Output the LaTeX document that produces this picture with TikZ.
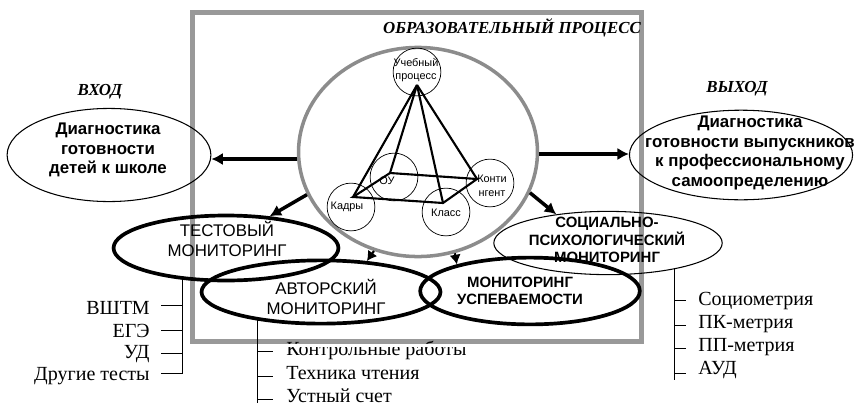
\documentclass[tikz,border=0pt]{standalone}
\usepackage{fontspec}
\setmainfont{Liberation Serif}
\setsansfont{Liberation Sans}
\usetikzlibrary{arrows.meta,shapes.geometric}

\tikzset{
  thinoval/.style={ellipse, draw, line width=0.6pt, inner sep=0pt},
  thickoval/.style={ellipse, draw, line width=2.1pt, inner sep=0pt},
  corner/.style={circle, draw, line width=0.4pt, minimum size=27.2pt, inner sep=0pt},
  flow/.style={-{Latex[length=6.5pt,width=7pt]}, line width=2pt},
  smallflow/.style={-{Latex[length=5.5pt,width=6.5pt]}, line width=1.2pt},
  branch/.style={line width=0.5pt},
  heading/.style={font=\fontsize{9.6}{11}\selectfont\bfseries\itshape, inner sep=0pt},
  plain/.style={font=\sffamily\fontsize{9.6}{11}\selectfont, align=center, inner sep=0pt},
  strong/.style={font=\sffamily\bfseries\fontsize{8.5}{10}\selectfont, align=center, inner sep=0pt},
  goal/.style={font=\sffamily\bfseries\fontsize{9.6}{11}\selectfont, align=center, inner sep=0pt},
  tiny/.style={font=\sffamily\fontsize{6.2}{7.8}\selectfont, align=center, inner sep=0pt},
  item/.style={font=\fontsize{11.4}{13}\selectfont, inner sep=0pt}
}

\begin{document}
\begin{tikzpicture}[x=0.02cm, y=-0.02cm]
    \useasboundingbox (0, 0) rectangle (864, 416);

    \node [draw=black!40, line width=2.9pt, minimum width=256pt, minimum height=187pt, inner sep=0pt] (frame) at (417, 177) {};
    \node [ellipse, draw=black!45, line width=2pt, minimum width=136pt, minimum height=119pt, inner sep=0pt] (process) at (418, 152) {};

    \node [corner] (top) at (417, 72) {};
    \node [corner] (school) at (394, 177) {};
    \node [corner] (staff) at (351, 207) {};
    \node [corner] (grade) at (446, 212) {};
    \node [corner] (pupils) at (490, 183) {};

    \coordinate (apex) at (417, 85);
    \coordinate (backleft) at (390, 173);
    \coordinate (frontleft) at (353, 197);
    \coordinate (frontright) at (443, 203);
    \coordinate (backright) at (477, 179);

    \draw [line width=1.2pt] (frontleft) -- (frontright) -- (backright) -- (backleft) -- cycle;
    \foreach \base in {backleft, frontleft, frontright, backright}
      \draw [line width=1.2pt] (apex) -- (\base);

    \node [tiny] (toplabel) at (416, 70) {Учебный\\процесс};
    \node [tiny] (schoollabel) at (387, 181) {ОУ};
    \node [tiny] (stafflabel) at (347, 207) {Кадры};
    \node [tiny] (gradelabel) at (446, 213) {Класс};
    \node [tiny] (pupilslabel) at (492, 186) {Конти\\нгент};

    \node [heading] (title) at (512, 28) {ОБРАЗОВАТЕЛЬНЫЙ ПРОЦЕСС};
    \node [heading] (intitle) at (100, 92) {ВХОД};
    \node [heading] (outtitle) at (737, 89) {ВЫХОД};

    \node [thinoval, minimum width=116pt, minimum height=53pt] (entry) at (109, 155) {};
    \node [thinoval, minimum width=127pt, minimum height=51pt] (exit) at (741, 155) {};
    \node [goal] (entrylabel) at (108, 150) {Диагностика\\готовности\\детей к школе};
    \node [goal, font=\sffamily\bfseries\fontsize{9.6}{11.3}\selectfont] (exitlabel) at (750, 153) {Диагностика\\готовности выпускников\\к профессиональному\\самоопределению};

    \node [thickoval, minimum width=128pt, minimum height=37pt] (test) at (226, 248) {};
    \node [thickoval, minimum width=136pt, minimum height=36pt] (author) at (321, 292) {};
    \node [thickoval, minimum width=125pt, minimum height=38pt] (progress) at (530, 291) {};
    \node [thinoval, minimum width=130pt, minimum height=36pt] (social) at (608, 243) {};

    \node [plain] (testlabel) at (227, 239) {ТЕСТОВЫЙ\\МОНИТОРИНГ};
    \node [plain] (authorlabel) at (326, 297) {АВТОРСКИЙ\\МОНИТОРИНГ};
    \node [strong] (progresslabel) at (520, 291) {МОНИТОРИНГ\\УСПЕВАЕМОСТИ};
    \node [strong] (sociallabel) at (607, 240) {СОЦИАЛЬНО-\\ПСИХОЛОГИЧЕСКИЙ\\МОНИТОРИНГ};

    \draw [flow] (process.west |- 0, 159) -- (entry.east |- 0, 159);
    \draw [flow] (process.east |- 0, 154) -- (exit.west |- 0, 154);
    \draw [flow] (process.201) -- (test.36);
    \draw [smallflow] (process.246) -- (author.34);
    \draw [smallflow] (process.290) -- (progress.160);
    \draw [flow] (process.340) -- (social.151);

    % lists under the three ovals
    \coordinate (testend) at (182, 374);
    \coordinate (authorend) at (257, 403);
    \coordinate (socialend) at (674, 380);

    \node [item, anchor=east] (vshtm) at (150, 308) {ВШТМ};
    \node [item, anchor=east] (ege) at (150, 331) {ЕГЭ};
    \node [item, anchor=east] (ud) at (150, 354) {УД};
    \node [item, anchor=east] (others) at (150, 376) {Другие тесты};

    \node [item, anchor=west] (written) at (286, 350) {Контрольные работы};
    \fill [white] (262, 344) rectangle (475, 346.5);
    \node [item, anchor=west] (reading) at (286, 373) {Техника чтения};
    \node [item, anchor=west] (oral) at (286, 396) {Устный счет};

    \node [item, anchor=west] (sociometry) at (698, 301) {Социометрия};
    \node [item, anchor=west] (pk) at (698, 324) {ПК-метрия};
    \node [item, anchor=west] (pp) at (698, 347) {ПП-метрия};
    \node [item, anchor=west] (aud) at (698, 370) {АУД};

    \draw [branch] (test.214 -| testend) -- (testend);
    \draw [branch] (author.203 -| authorend) -- (authorend);
    \draw [branch] (social.338 -| socialend) -- (socialend);

    \foreach \name/\y in {vshtm/305, ege/330, ud/353, others/373}
      \draw [branch, shorten >=0.22cm] (testend |- 0, \y) -- (\name.east |- 0, \y);
    \foreach \name/\y in {written/351, reading/376, oral/399}
      \draw [branch, shorten >=0.26cm] (authorend |- 0, \y) -- (\name.west |- 0, \y);
    \foreach \name/\y in {sociometry/300, pk/325, pp/348, aud/373}
      \draw [branch, shorten >=0.24cm] (socialend |- 0, \y) -- (\name.west |- 0, \y);
  \end{tikzpicture}
\end{document}
